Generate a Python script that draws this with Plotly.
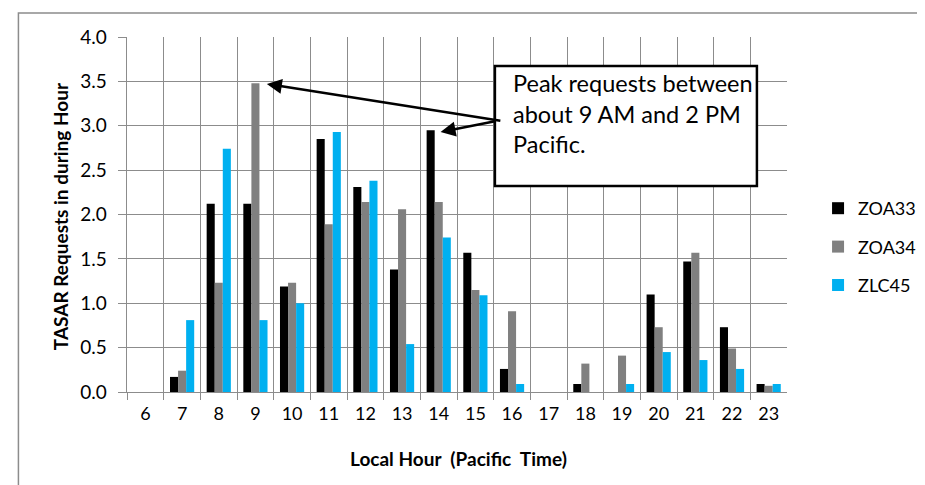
import plotly.graph_objects as go

hours = [str(h) for h in range(6, 24)]
zoa33 = [0, 0.17, 2.12, 2.12, 1.19, 2.85, 2.31, 1.38, 2.95, 1.57, 0.26, 0, 0.09, 0, 1.10, 1.47, 0.73, 0.09]
zoa34 = [0, 0.24, 1.23, 3.48, 1.23, 1.89, 2.14, 2.06, 2.14, 1.15, 0.91, 0, 0.32, 0.41, 0.73, 1.57, 0.49, 0.07]
zlc45 = [0, 0.81, 2.74, 0.81, 1.00, 2.93, 2.38, 0.54, 1.74, 1.09, 0.09, 0, 0, 0.09, 0.45, 0.36, 0.26, 0.09]
series_names = ["ZOA33", "ZOA34", "ZLC45"]
series_colors = ["#000000", "#808080", "#00B0F0"]
y_ticks = [0.0, 0.5, 1.0, 1.5, 2.0, 2.5, 3.0, 3.5, 4.0]

FONT = "Lato"
W, H = 925, 485
L, R, T, B = 90, 125, 29, 101
PLOT_LEFT = 120
pw, ph = W - L - R, H - T - B

def px(x):
    return (x - L) / pw

def py(y):
    return (H - B - y) / ph

fig = go.Figure()
for i, (name, vals, col) in enumerate(zip(series_names, [zoa33, zoa34, zlc45], series_colors)):
    fig.add_trace(go.Bar(x=hours, y=vals, name=name, marker_color=col,
                         marker_line_width=0, legendgroup=name))

yrange = [0, 4.0]
fig.update_layout(
    width=W, height=H,
    margin=dict(l=L, r=R, t=T, b=B),
    paper_bgcolor="white", plot_bgcolor="white",
    barmode="group", bargap=0.34, bargroupgap=0,
    font=dict(family=FONT, size=18, color="#000"),
    showlegend=True,
    legend=dict(x=px(832), y=py(182), xanchor="left", yanchor="top",
                font=dict(size=18), tracegroupgap=12, itemwidth=30,
                bgcolor="rgba(0,0,0,0)"),
    xaxis=dict(type="category", tickson="boundaries", showgrid=True,
               domain=[px(PLOT_LEFT), 1],
               gridcolor="#8c8c8c", gridwidth=1, showline=True,
               linecolor="#8c8c8c", linewidth=1, ticks="outside", ticklen=7,
               tickcolor="#8c8c8c", ticklabelstandoff=5,
               tickfont=dict(size=18), range=[-0.5, 17.5]),
    yaxis=dict(range=yrange, tickvals=y_ticks, showticklabels=False,
               showgrid=True,
               gridcolor="#8c8c8c", gridwidth=1, showline=True,
               linecolor="#8c8c8c", linewidth=1, ticks="outside", ticklen=8,
               tickcolor="#8c8c8c", zeroline=False),
    yaxis2=dict(range=yrange, tickvals=y_ticks,
                ticktext=[f"{v:.1f}" for v in y_ticks],
                overlaying="y", anchor="free", position=px(99), side="left",
                showgrid=False, showline=False, ticks="", zeroline=False,
                tickfont=dict(size=19)),
)
# invisible trace to activate the label axis
fig.add_trace(go.Scatter(x=[hours[0]], y=[0], yaxis="y2", mode="markers",
                         marker=dict(opacity=0), showlegend=False, hoverinfo="skip"))

# outer chart border (only top and left visible in frame)
fig.add_shape(type="rect", xref="paper", yref="paper",
              x0=px(8), x1=px(940), y0=py(500), y1=py(5),
              line=dict(color="#8c8c8c", width=1.5), layer="below")

# axis titles
fig.add_annotation(text="<b>TASAR Requests in during Hour</b>", xref="paper", yref="paper",
                   x=px(51), y=py(208), textangle=-90, showarrow=False,
                   font=dict(size=19, family=FONT), xanchor="center", yanchor="middle")
fig.add_annotation(text="<b>Local Hour  (Pacific  Time)</b>", xref="paper", yref="paper",
                   x=px(461), y=py(450), showarrow=False,
                   font=dict(size=19, family=FONT), xanchor="center", yanchor="middle")

# callout box
fig.add_shape(type="rect", xref="paper", yref="paper",
              x0=px(499), x1=px(769), y0=py(178), y1=py(58),
              line=dict(color="#000", width=2.5), fillcolor="white")
fig.add_annotation(text="Peak requests between<br>about 9 AM and 2 PM<br>Pacific.",
                   xref="paper", yref="paper", x=px(516), y=py(105),
                   xanchor="left", yanchor="middle", align="left", showarrow=False,
                   font=dict(size=23.5, family=FONT))

# arrows
for hx, hy in [(264, 76), (443, 124)]:
    fig.add_annotation(text="", xref="paper", yref="paper", x=px(hx), y=py(hy),
                       ax=499 - hx, ay=113 - hy, showarrow=True, arrowhead=2,
                       arrowsize=1.2, arrowwidth=2.5, arrowcolor="#000")

fig.write_html("out.html")
